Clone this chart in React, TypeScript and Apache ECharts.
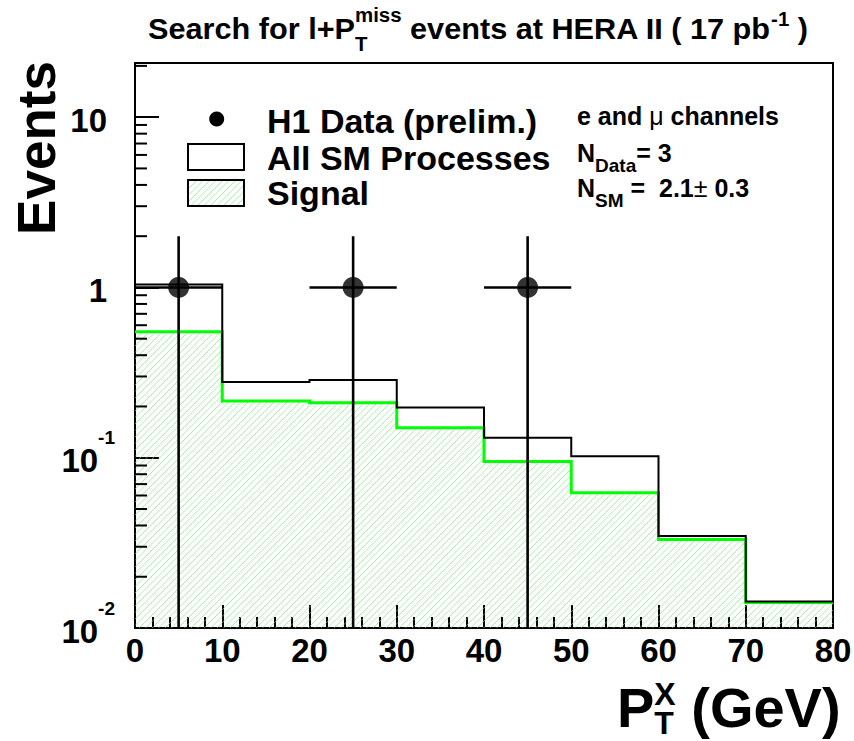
import React, { useEffect, useRef } from 'react';
import * as echarts from 'echarts';

// Histogram binning in P_T^X (GeV)
const binEdges = [0, 10, 20, 30, 40, 50, 60, 70, 80];
// Expected events per bin: all SM processes and the signal contribution
const smEvents = [1.04, 0.278, 0.286, 0.197, 0.131, 0.102, 0.0347, 0.0143];
const signalEvents = [0.549, 0.215, 0.21, 0.15, 0.095, 0.0623, 0.0331, 0.0141];
// Observed data points with errors
const dataX = [5, 25, 45];
const dataEvents = [1, 1, 1];
const dataErrDown = [1, 1, 1];
const dataErrUp = [1, 1, 1];
const dataHalfWidth = [5, 5, 5];
// Log axis range and tick marks
const Y_MIN = 0.01;
const Y_MAX = 20.8;
const yDecades = [0.01, 0.1, 1, 10];
const yMinorSteps = [2, 3, 4, 5, 6, 7, 8, 9];

const FONT = '"Liberation Sans", Arial, Helvetica, sans-serif';
const HATCH_COLOR = '#6cec6c';
const HATCH_WIDTH = 0.6;
const HATCH_STEP = 6.5;

const measureCtx = (() => {
  const c = document.createElement('canvas');
  return c.getContext('2d') as CanvasRenderingContext2D;
})();

function fontOf(size: number, weight = 'bold') {
  return `${weight} ${size}px ${FONT}`;
}

function textWidth(t: string, font: string) {
  measureCtx.font = font;
  return measureCtx.measureText(t).width;
}

type Run = { t: string; size: number; weight?: string; dy?: number; dx?: number; advance?: boolean };

// Lays out a line of text pieces (sub/superscripts included) along a baseline
function layoutRuns(x0: number, baseline: number, list: Run[]) {
  let x = x0;
  const els: any[] = [];
  for (const r of list) {
    const font = fontOf(r.size, r.weight ?? 'bold');
    const dx = r.dx ?? 0;
    els.push({
      type: 'text',
      x: x + dx,
      y: baseline + (r.dy ?? 0) - 0.3465 * r.size,
      silent: true,
      style: {
        text: r.t,
        font,
        fill: '#000',
        align: 'left',
        verticalAlign: 'middle',
        textAlign: 'left',
        textVerticalAlign: 'middle',
      },
    });
    if (r.advance !== false) x += textWidth(r.t, font) + dx;
  }
  return { els, width: x - x0 };
}

// Diagonal "/" hatch segments clipped to a pixel rectangle
function hatchSegments(xa: number, xb: number, ya: number, yb: number) {
  const segs: any[] = [];
  const start = Math.ceil((xa + ya) / HATCH_STEP) * HATCH_STEP;
  for (let c = start; c <= xb + yb; c += HATCH_STEP) {
    const x1 = Math.max(xa, c - yb);
    const x2 = Math.min(xb, c - ya);
    if (x2 <= x1) continue;
    segs.push({
      type: 'line',
      shape: { x1, y1: c - x1, x2, y2: c - x2 },
      style: { stroke: HATCH_COLOR, lineWidth: HATCH_WIDTH },
    });
  }
  return segs;
}

function stepPoints(values: number[]) {
  const pts = values.map((v, i) => [binEdges[i], v]);
  pts.push([binEdges[binEdges.length - 1], values[values.length - 1]]);
  return pts;
}

function yLabel(v: number) {
  const lg = Math.log10(v);
  const e = Math.round(lg);
  if (Math.abs(lg - e) > 1e-6) return '';
  if (e === 0) return '{p|1}';
  if (e === 1) return '{p|10}';
  return `{b|10}{s|${e}}`;
}

function buildOption() {
  const minorTicks: number[][] = [];
  yDecades.forEach((d) =>
    yMinorSteps.forEach((m) => {
      const v = d * m;
      if (v < Y_MAX) minorTicks.push([0, v]);
    })
  );

  // Title
  const title = layoutRuns(0, 39, [
    { t: 'Search for l+P', size: 30 },
    { t: 'T', size: 20, dy: 12, advance: false },
    { t: 'miss', size: 20, dy: -17 },
    { t: ' events at HERA II ( 17 pb', size: 30 },
    { t: '-1', size: 20, dy: -13 },
    { t: ' )', size: 30 },
  ]);
  const titleScale = 660 / title.width;

  // Legend
  const legendText = [
    layoutRuns(267, 133, [{ t: 'H1 Data (prelim.)', size: 34 }]),
    layoutRuns(267, 170, [{ t: 'All SM Processes', size: 34 }]),
    layoutRuns(267, 205, [{ t: 'Signal', size: 34 }]),
  ];

  // Channel / yield summary
  const info = [
    layoutRuns(577, 125, [
      { t: 'e and ', size: 25 },
      { t: 'μ', size: 25, weight: 'normal' },
      { t: ' channels', size: 25 },
    ]),
    layoutRuns(577, 162, [
      { t: 'N', size: 25 },
      { t: 'Data', size: 19, dy: 10 },
      { t: '= 3', size: 25 },
    ]),
    layoutRuns(577, 197, [
      { t: 'N', size: 25 },
      { t: 'SM', size: 19, dy: 10 },
      { t: ' =  2.1', size: 25 },
      { t: '±', size: 25, weight: 'normal' },
      { t: ' 0.3', size: 25 },
    ]),
  ];

  // X axis title
  const xName = layoutRuns(617, 727, [
    { t: 'P', size: 56 },
    { t: 'T', size: 32, dy: 7, advance: false },
    { t: 'X', size: 32, dy: -22 },
    { t: ' (GeV)', size: 56 },
  ]);

  const graphic: any[] = [
    { type: 'group', x: 148, y: 0, scaleX: titleScale, children: title.els },
    {
      type: 'text',
      x: 36.5,
      y: 148,
      rotation: Math.PI / 2,
      silent: true,
      style: {
        text: 'Events',
        font: fontOf(53),
        fill: '#000',
        align: 'center',
        verticalAlign: 'middle',
        textAlign: 'center',
        textVerticalAlign: 'middle',
      },
    },
    { type: 'circle', shape: { cx: 216.7, cy: 119, r: 7.5 }, style: { fill: '#000' }, silent: true },
    {
      type: 'rect',
      shape: { x: 188, y: 144, width: 56, height: 26 },
      style: { fill: '#fff', stroke: '#000', lineWidth: 2 },
      silent: true,
    },
    { type: 'group', silent: true, children: hatchSegments(189, 243, 181, 205) },
    {
      type: 'rect',
      shape: { x: 188, y: 180, width: 56, height: 26 },
      style: { fill: 'none', stroke: '#000', lineWidth: 2 },
      silent: true,
    },
    ...legendText.flatMap((l) => l.els),
    ...info.flatMap((l) => l.els),
    ...xName.els,
  ];

  const axisLineStyle = { color: '#000', width: 2 };
  const labelBase = { fontSize: 33, fontWeight: 'bold', fontFamily: FONT, color: '#000' };

  return {
    animation: false,
    backgroundColor: '#fff',
    grid: {
      left: 135,
      right: 21,
      top: 63,
      bottom: 113,
      show: true,
      borderColor: '#000',
      borderWidth: 2,
      backgroundColor: 'transparent',
      containLabel: false,
      outerBoundsMode: 'none',
    },
    xAxis: {
      type: 'value',
      min: 0,
      max: 80,
      interval: 10,
      axisLine: { show: true, onZero: false, lineStyle: axisLineStyle },
      axisTick: { show: true, inside: true, length: 23, lineStyle: axisLineStyle },
      minorTick: { show: true, splitNumber: 5, length: 11, lineStyle: axisLineStyle },
      splitLine: { show: false },
      minorSplitLine: { show: false },
      axisLabel: {
        show: true,
        margin: 6,
        ...labelBase,
        formatter: (v: number) => String(Math.round(v)),
      },
    },
    yAxis: {
      type: 'log',
      logBase: 10,
      min: Y_MIN,
      max: Y_MAX,
      axisLine: { show: true, lineStyle: axisLineStyle },
      axisTick: { show: true, inside: true, length: 24, lineStyle: axisLineStyle },
      minorTick: { show: false },
      splitLine: { show: false },
      axisLabel: {
        show: true,
        margin: 20,
        formatter: yLabel,
        rich: {
          p: { ...labelBase, padding: [16, 8, 10, 0] },
          b: { ...labelBase, padding: [16, 0, 10, 0] },
          s: { ...labelBase, fontSize: 19, verticalAlign: 'top' },
        },
      },
    },
    graphic,
    series: [
      {
        name: 'Signal hatch',
        type: 'custom',
        silent: true,
        z: 1,
        data: signalEvents.map((v, i) => [binEdges[i], binEdges[i + 1], v]),
        renderItem: (_p: any, api: any) => {
          const tl = api.coord([api.value(0), api.value(2)]);
          const br = api.coord([api.value(1), Y_MIN]);
          return { type: 'group', children: hatchSegments(tl[0], br[0], tl[1], br[1]) };
        },
      },
      {
        name: 'Signal',
        type: 'line',
        step: 'end',
        data: stepPoints(signalEvents),
        symbol: 'none',
        silent: true,
        z: 2,
        lineStyle: { color: '#00ff00', width: 3, join: 'miter' },
      },
      {
        name: 'All SM Processes',
        type: 'line',
        step: 'end',
        data: stepPoints(smEvents),
        symbol: 'none',
        silent: true,
        z: 3,
        lineStyle: { color: '#000', width: 2, join: 'miter' },
      },
      {
        name: 'y minor ticks',
        type: 'custom',
        silent: true,
        z: 4,
        data: minorTicks,
        renderItem: (_p: any, api: any) => {
          const p = api.coord([api.value(0), api.value(1)]);
          return {
            type: 'line',
            shape: { x1: p[0], y1: p[1], x2: p[0] + 12, y2: p[1] },
            style: { stroke: '#000', lineWidth: 2 },
          };
        },
      },
      {
        name: 'data errors',
        type: 'custom',
        silent: true,
        z: 5,
        data: dataX.map((x, i) => [x, dataEvents[i], dataHalfWidth[i], dataErrDown[i], dataErrUp[i]]),
        renderItem: (_p: any, api: any) => {
          const x = api.value(0);
          const y = api.value(1);
          const hw = api.value(2);
          const lo = Math.max(y - api.value(3), Y_MIN);
          const hi = y + api.value(4);
          const pLo = api.coord([x, lo]);
          const pHi = api.coord([x, hi]);
          const pL = api.coord([x - hw, y]);
          const pR = api.coord([x + hw, y]);
          const st = { stroke: '#000', lineWidth: 2.6 };
          return {
            type: 'group',
            children: [
              { type: 'line', shape: { x1: pLo[0], y1: pLo[1], x2: pHi[0], y2: pHi[1] }, style: st },
              { type: 'line', shape: { x1: pL[0], y1: pL[1], x2: pR[0], y2: pR[1] }, style: st },
            ],
          };
        },
      },
      {
        name: 'H1 Data (prelim.)',
        type: 'scatter',
        silent: true,
        z: 6,
        symbol: 'circle',
        symbolSize: 21,
        itemStyle: { color: '#000' },
        data: dataX.map((x, i) => [x, dataEvents[i]]),
      },
    ],
  };
}

export default function App() {
  const ref = useRef<HTMLDivElement>(null);
  useEffect(() => {
    const chart = echarts.init(ref.current as HTMLDivElement, null, { renderer: 'svg' });
    chart.setOption(buildOption() as any);
    return () => chart.dispose();
  }, []);
  return (
    <div
      ref={ref}
      style={{ position: 'fixed', left: 0, top: 0, width: 854, height: 741, background: '#fff' }}
    />
  );
}
